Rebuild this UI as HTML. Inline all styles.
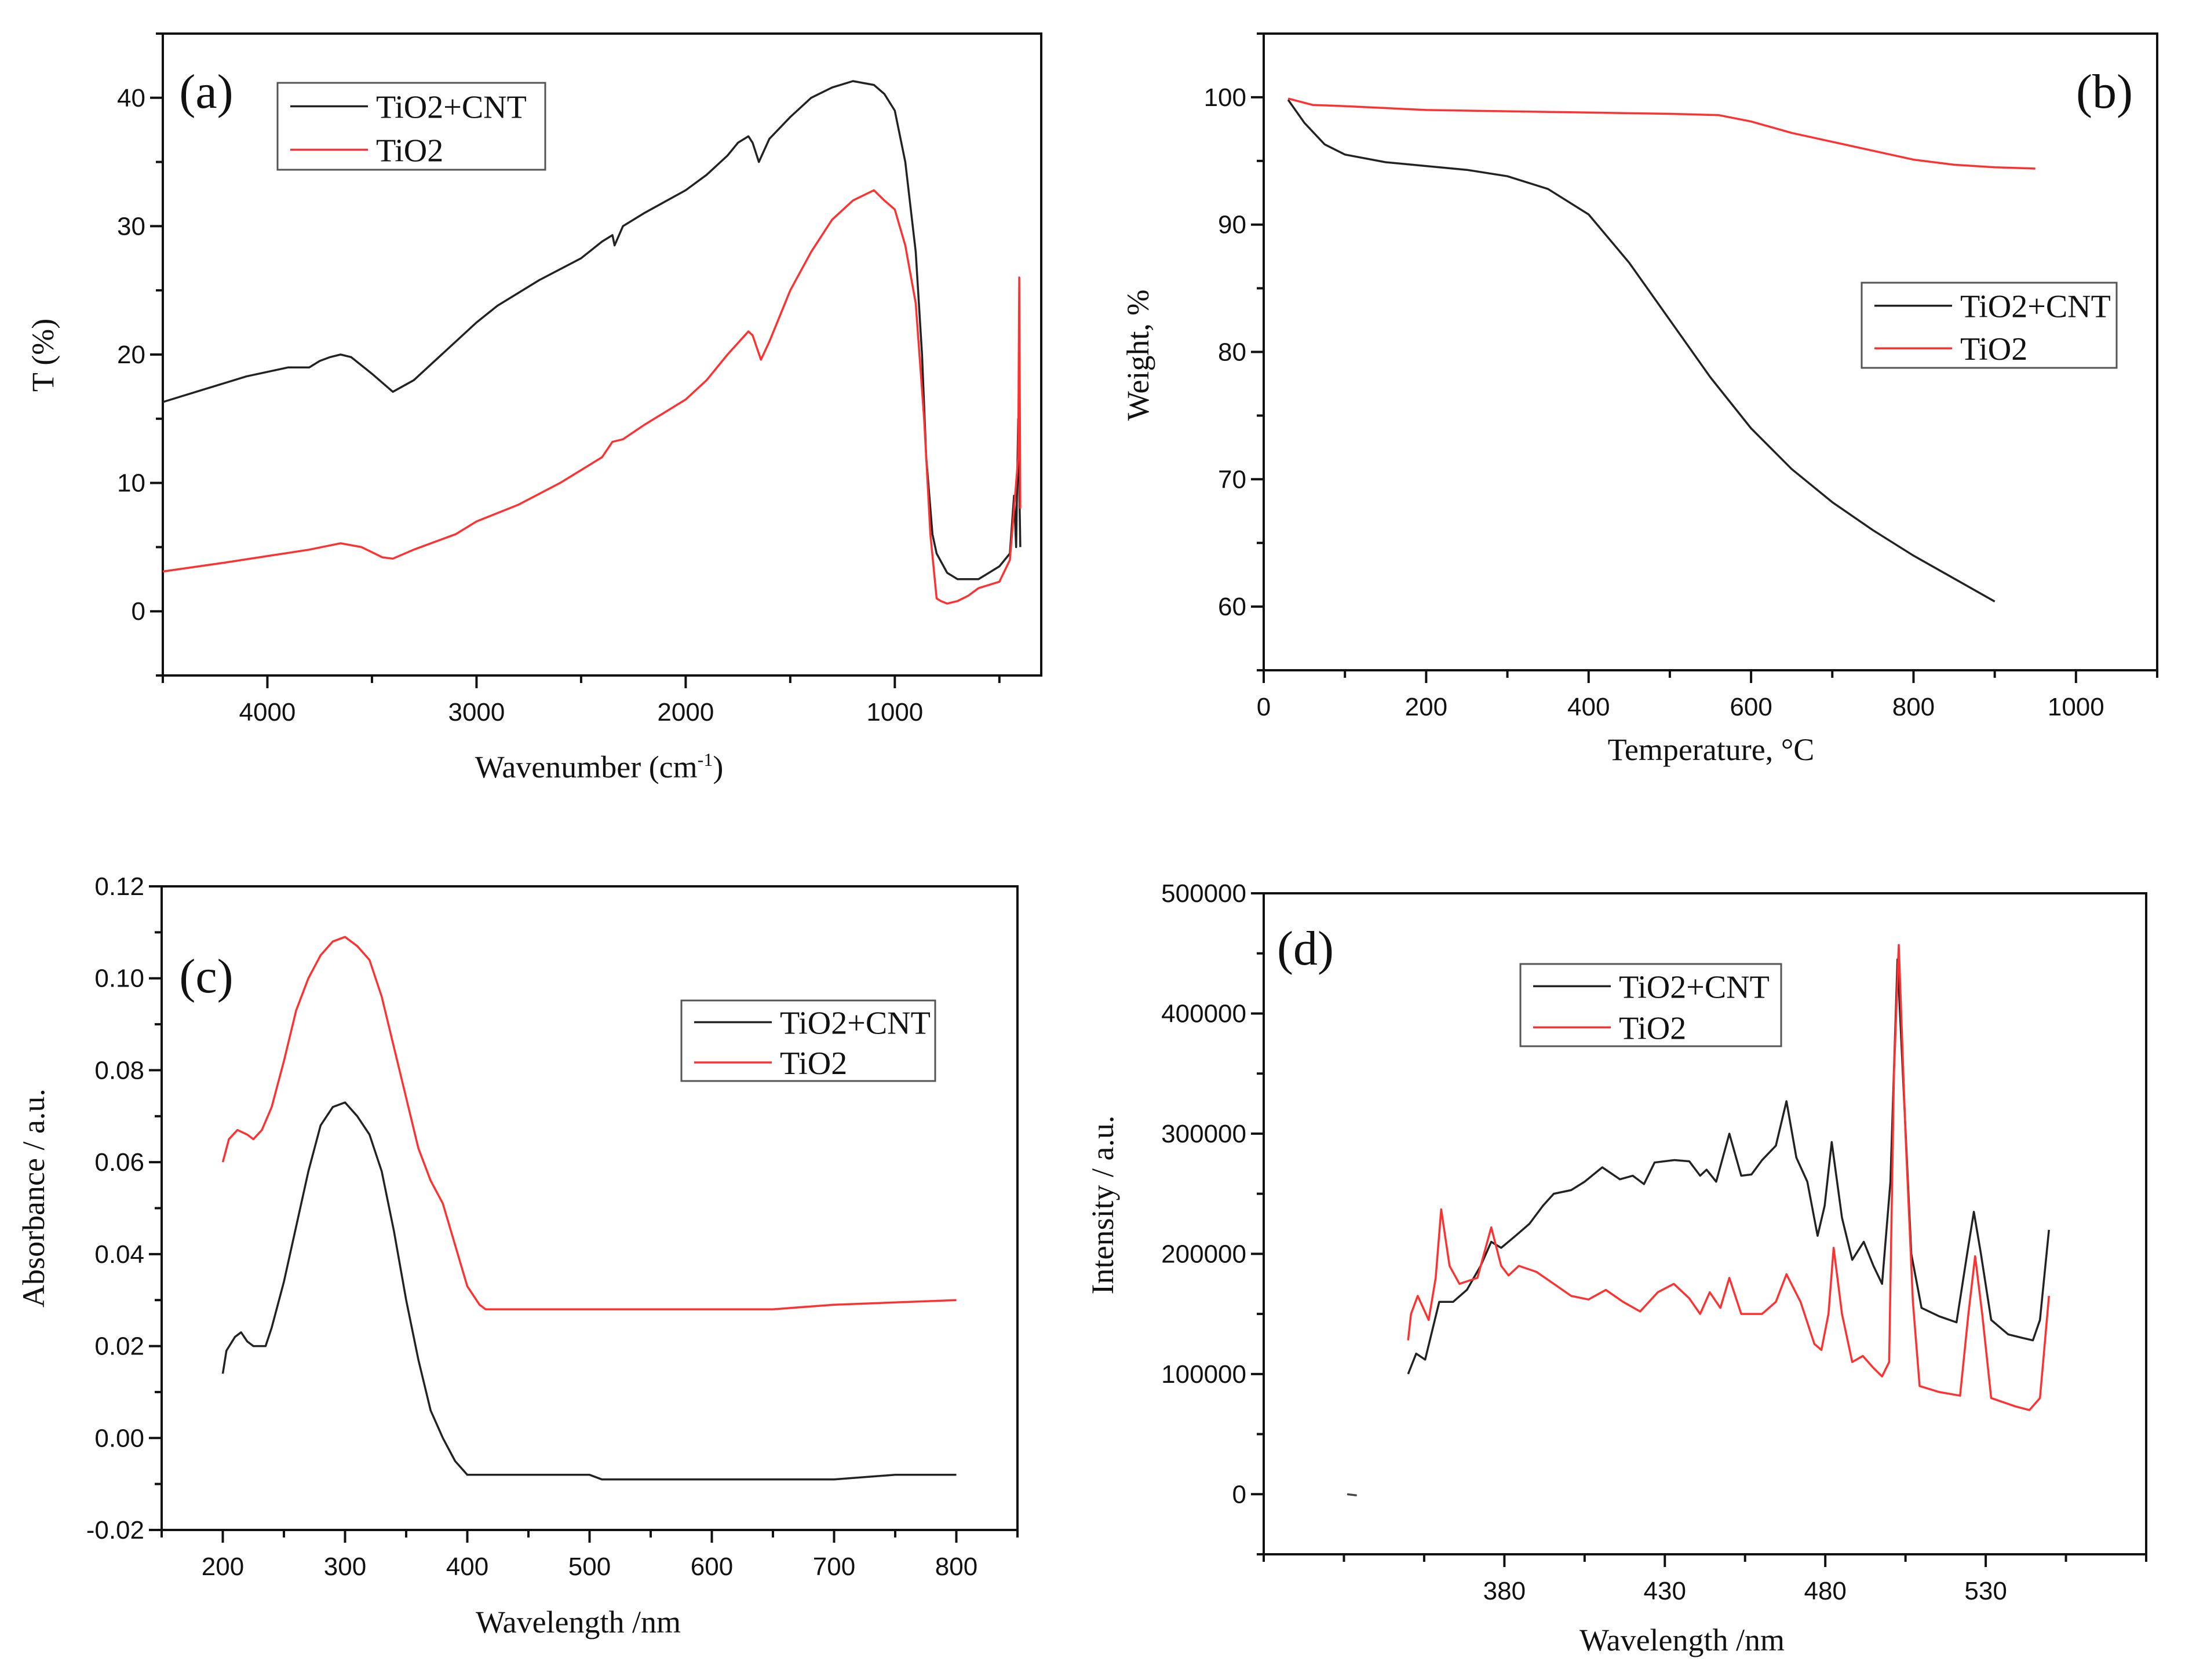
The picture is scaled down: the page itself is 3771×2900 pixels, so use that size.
<!DOCTYPE html>
<html><head><meta charset="utf-8"><style>
html,body{margin:0;padding:0;background:#fff;}
svg{display:block;}
.tk{font-family:"Liberation Sans",Arial,sans-serif;font-size:44px;fill:#111;}
.tt{font-family:"Liberation Serif","Times New Roman",serif;font-size:54px;fill:#111;}
.lg{font-family:"Liberation Serif","Times New Roman",serif;font-size:56px;fill:#111;}
.pl{font-family:"Liberation Serif","Times New Roman",serif;font-size:84px;fill:#111;}
</style></head><body>
<svg id="fig" width="3771" height="2900" viewBox="0 0 3771 2900" xmlns="http://www.w3.org/2000/svg">
<rect width="3771" height="2900" fill="#fff"/>
</svg>
<script>
// ---- Panel (a) FTIR ----
const aX = [4500,4300,4100,3900,3800,3750,3700,3650,3600,3500,3400,3300,3200,3000,2900,2700,2500,2400,2350,2340,2300,2200,2000,1900,1800,1750,1700,1680,1650,1600,1500,1400,1300,1200,1100,1050,1000,950,900,870,850,820,800,750,700,650,600,550,500,450,430,420,410,400];
const aCNT = [16.3,17.3,18.3,19,19,19.5,19.8,20,19.8,18.5,17.1,18,19.5,22.5,23.8,25.8,27.5,28.8,29.3,28.5,30,31,32.8,34,35.5,36.5,37,36.5,35,36.8,38.5,40,40.8,41.3,41,40.3,39,35,28,20,12,6,4.5,3,2.5,2.5,2.5,3,3.5,4.5,9,5,15,5];
const aX2 = [4500,4200,4000,3800,3650,3550,3450,3400,3300,3100,3000,2800,2600,2400,2350,2300,2200,2000,1900,1800,1700,1680,1640,1600,1500,1400,1300,1200,1100,1050,1000,950,900,860,830,800,780,750,700,650,600,500,450,420,410,405,400];
const aTiO2 = [3.1,3.8,4.3,4.8,5.3,5,4.2,4.1,4.8,6,7,8.3,10,12,13.2,13.4,14.5,16.5,18,20,21.8,21.5,19.6,21,25,28,30.5,32,32.8,32,31.3,28.5,24,15,6,1,0.8,0.6,0.8,1.2,1.8,2.3,4,10,12,26,8];
const aXTicks = [4000,3000,2000,1000];
const aYTicks = [0,10,20,30,40];
// ---- Panel (b) TGA ----
const bX = [30,50,75,100,150,200,250,300,350,400,450,500,550,600,650,700,750,800,850,900];
const bCNT = [99.8,98,96.3,95.5,94.9,94.6,94.3,93.8,92.8,90.8,87,82.5,78,74,70.8,68.2,66,64,62.2,60.4];
const bX2 = [30,60,100,200,300,400,500,560,600,650,700,750,800,850,900,950];
const bTiO2 = [99.9,99.4,99.3,99,98.9,98.8,98.7,98.6,98.1,97.2,96.5,95.8,95.1,94.7,94.5,94.4];
const bXTicks = [0,200,400,600,800,1000];
const bYTicks = [60,70,80,90,100];
// ---- Panel (c) UV-Vis ----
const cX = [200,203,210,215,220,225,235,240,250,260,270,280,290,300,310,320,330,340,350,360,370,380,390,400,500,510,650,700,750,800];
const cCNT = [0.014,0.019,0.022,0.023,0.021,0.020,0.020,0.024,0.034,0.046,0.058,0.068,0.072,0.073,0.070,0.066,0.058,0.045,0.030,0.017,0.006,0.0,-0.005,-0.008,-0.008,-0.009,-0.009,-0.009,-0.008,-0.008];
const cX2 = [200,205,212,220,225,232,240,250,260,270,280,290,300,310,320,330,340,350,360,370,380,390,400,410,415,500,650,700,800];
const cTiO2 = [0.060,0.065,0.067,0.066,0.065,0.067,0.072,0.082,0.093,0.100,0.105,0.108,0.109,0.107,0.104,0.096,0.085,0.074,0.063,0.056,0.051,0.042,0.033,0.029,0.028,0.028,0.028,0.029,0.030];
const cXTicks = [200,300,400,500,600,700,800];
const cYTicks = [-0.02,0,0.02,0.04,0.06,0.08,0.10,0.12];
const cYLabels = ["-0.02","0.00","0.02","0.04","0.06","0.08","0.10","0.12"];
// ---- Panel (d) PL ----
const dX = [350,352.5,355.3,359.7,364,368.3,372.6,375.9,379,383.5,387.8,392,395.4,400.8,405,410.5,416,420,423.5,426.8,433,437.6,441,443,446,450.1,453.8,457,460.3,464.6,467.9,471,474.4,477.6,479.8,482,485.2,488.4,492,495,497.7,500.3,502.5,504.7,506.8,510,515.5,520.9,524.2,526.3,528.5,531.7,537,541.5,544.7,546.9,549.7];
const dCNT = [100000,117000,112000,160000,160000,170000,190000,210000,205000,215000,225000,240000,250000,253000,260000,272000,262000,265000,258000,276000,278000,277000,265000,270000,260000,300000,265000,266000,278000,290000,327000,280000,260000,215000,240000,293000,230000,195000,210000,190000,175000,260000,445000,320000,200000,155000,148000,143000,200000,235000,200000,145000,133000,130000,128000,145000,220000];
const dX2 = [350,350.9,353,356.4,358.6,360.3,362.9,366,371.6,375.9,379,381.3,384.5,390,395.4,400.8,406.2,411.6,417,422.3,427.8,432.8,437.6,441,444,447.3,450.1,453.8,460.3,464.6,467.9,472.3,476.6,478.8,481,482.6,485.2,488.4,491.7,495,497.7,499.9,501.4,502.9,505,507.3,509.4,515.5,522,524.6,526.7,528.9,531.7,539.3,543.6,546.9,549.7];
const dTiO2 = [128000,150000,165000,145000,180000,237000,190000,175000,180000,222000,190000,182000,190000,185000,175000,165000,162000,170000,160000,152000,168000,175000,163000,150000,168000,155000,180000,150000,150000,160000,183000,160000,125000,120000,150000,205000,150000,110000,115000,105000,98000,110000,350000,457000,300000,160000,90000,85000,82000,150000,198000,150000,80000,73000,70000,80000,165000];
const dDashX = [331,334];
const dDashY = [0,-1000];
const dXTicks = [380,430,480,530];
const dYTicks = [0,100000,200000,300000,400000,500000];

const NS="http://www.w3.org/2000/svg";
const svg=document.getElementById('fig');
function mk(tag,attrs,parent){const e=document.createElementNS(NS,tag);for(const k in attrs)e.setAttribute(k,attrs[k]);(parent||svg).appendChild(e);return e;}

function panel(cfg){
  const g=mk('g',{});
  
  
  const L=cfg.L,R=cfg.R,T=cfg.T,B=cfg.B;
  const sx=v=>L+(v-cfg.x0)/(cfg.x1-cfg.x0)*(R-L);
  const sy=v=>B-(v-cfg.y0)/(cfg.y1-cfg.y0)*(B-T);
  const fr=mk('rect',{x:L,y:T,width:R-L,height:B-T,fill:'none',stroke:'#111','stroke-width':4},g);
  
  
  const xax=mk('g',{},g);
  
  
  for(let v=cfg.xmStart; (cfg.x1>cfg.x0? v<=Math.max(cfg.x0,cfg.x1)+1e-9 : v>=Math.min(cfg.x0,cfg.x1)-1e-9); v+=cfg.xmStep){
    if((v-cfg.x0)*(v-cfg.x1)>1e-9) continue;
    const maj=cfg.xTicks.some(t=>Math.abs(t-v)<1e-6);
    mk('line',{x1:sx(v),x2:sx(v),y1:B,y2:B+(maj?22:13),stroke:'#111','stroke-width':4},xax);
  }
  cfg.xTicks.forEach((v,i)=>{
    const t=mk('text',{x:sx(v),y:B+78,'text-anchor':'middle',class:'tk'},xax);
    t.textContent=cfg.xLabels?cfg.xLabels[i]:String(v);
  });
  const yax=mk('g',{},g);
  
  
  for(let v=cfg.ymStart; v<=cfg.y1+1e-9; v+=cfg.ymStep){
    const maj=cfg.yTicks.some(t=>Math.abs(t-v)<1e-9);
    mk('line',{x1:L,x2:L-(maj?22:12),y1:sy(v),y2:sy(v),stroke:'#111','stroke-width':4},yax);
  }
  cfg.yTicks.forEach((v,i)=>{
    const t=mk('text',{x:L-30,y:sy(v)+15,'text-anchor':'end',class:'tk'},yax);
    t.textContent=cfg.yLabels?cfg.yLabels[i]:String(v);
  });
  const xt=mk('text',{x:cfg.xtX,y:cfg.xtY,'text-anchor':'middle',class:'tt'},g);
  
  
  xt.innerHTML=cfg.xTitle;
  const yt=mk('text',{x:0,y:0,'text-anchor':'middle',class:'tt',transform:`translate(${cfg.ytX},${cfg.ytY}) rotate(-90)`},g);
  
  
  yt.textContent=cfg.yTitle;
  cfg.series.forEach(s=>{
    const d=s.x.map((xv,i)=>(i?'L':'M')+sx(xv).toFixed(1)+' '+sy(s.y[i]).toFixed(1)).join(' ');
    const p=mk('path',{d:d,fill:'none',stroke:s.color,'stroke-width':3.5,'stroke-linejoin':'round'},g);
    
    
  });
  const lg=mk('g',{},g);
  
  
  const lx=cfg.leg[0],ly=cfg.leg[1],lw=cfg.leg[2],lh=cfg.leg[3];
  mk('rect',{x:lx,y:ly,width:lw,height:lh,fill:'#fff',stroke:'#555','stroke-width':3},lg);
  [['TiO2+CNT','#222'],['TiO2','#ff3030']].forEach((e,i)=>{
    const ry=ly+lh*(0.27+0.5*i);
    const en=mk('g',{},lg);
    
    
    mk('line',{x1:lx+22,x2:lx+156,y1:ry,y2:ry,stroke:e[1],'stroke-width':3.5},en);
    const t=mk('text',{x:lx+170,y:ry+20,class:'lg'},en);
    t.textContent=e[0];
  });
  const pl=mk('text',{x:cfg.plX,y:cfg.plY,'text-anchor':'middle',class:'pl'},g);
  
  
  pl.textContent='('+cfg.id+')';
}

panel({id:'a',L:281,R:1797,T:58,B:1166,x0:4500,x1:300,y0:-5,y1:45,
  xTicks:aXTicks,xmStart:4500,xmStep:-500,yTicks:aYTicks,ymStart:-5,ymStep:5,
  xTitle:'Wavenumber (cm<tspan dy="-20" font-size="32">-1</tspan><tspan dy="20">)</tspan>',xtX:1034,xtY:1342,yTitle:'T (%)',ytX:92,ytY:613,
  series:[{name:'tio2-cnt',x:aX,y:aCNT,color:'#222'},{name:'tio2',x:aX2,y:aTiO2,color:'#ff3030'}],
  leg:[479,143,462,150],plX:356,plY:186});
panel({id:'b',L:2181,R:3723,T:58,B:1157,x0:0,x1:1100,y0:55,y1:105,
  xTicks:bXTicks,xmStart:0,xmStep:100,yTicks:bYTicks,ymStart:55,ymStep:5,
  xTitle:'Temperature, °C',xtX:2953,xtY:1312,yTitle:'Weight, %',ytX:1982,ytY:613,
  series:[{name:'tio2-cnt',x:bX,y:bCNT,color:'#222'},{name:'tio2',x:bX2,y:bTiO2,color:'#ff3030'}],
  leg:[3213,488,440,147],plX:3632,plY:186});
panel({id:'c',L:279,R:1756,T:1530,B:2641,x0:150,x1:850,y0:-0.02,y1:0.12,
  xTicks:cXTicks,xmStart:150,xmStep:50,yTicks:cYTicks,yLabels:cYLabels,ymStart:-0.02,ymStep:0.01,
  xTitle:'Wavelength /nm',xtX:998,xtY:2818,yTitle:'Absorbance / a.u.',ytX:76,ytY:2068,
  series:[{name:'tio2-cnt',x:cX,y:cCNT,color:'#222'},{name:'tio2',x:cX2,y:cTiO2,color:'#ff3030'}],
  leg:[1176,1727,438,139],plX:356,plY:1713});
panel({id:'d',L:2181,R:3704,T:1542,B:2683,x0:305,x1:580,y0:-50000,y1:500000,
  xTicks:dXTicks,xmStart:305,xmStep:25,yTicks:dYTicks,ymStart:-50000,ymStep:50000,
  xTitle:'Wavelength /nm',xtX:2903,xtY:2849,yTitle:'Intensity / a.u.',ytX:1921,ytY:2080,
  series:[{name:'tio2-cnt',x:dX,y:dCNT,color:'#222'},{name:'tio2',x:dX2,y:dTiO2,color:'#ff3030'},{name:'dash',x:dDashX,y:dDashY,color:'#444'}],
  leg:[2624,1664,450,142],plX:2253,plY:1665});
</script>
</body></html>
